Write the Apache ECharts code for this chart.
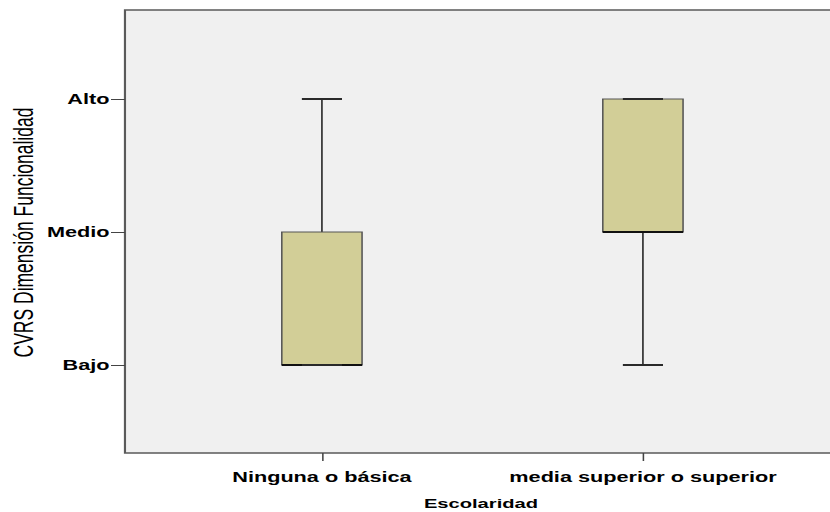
<!DOCTYPE html>
<html>
<head>
<meta charset="utf-8">
<script src="https://cdn.jsdelivr.net/npm/echarts@6/dist/echarts.min.js"></script>
<style>
  html, body { margin: 0; padding: 0; background: #ffffff; overflow: hidden; }
  /* the chart is laid out in a narrow frame and widened horizontally */
  #chart { width: 536px; height: 512px; transform: scaleX(1.5485); transform-origin: 0 0; }
</style>
</head>
<body>
<div id="chart"></div>
<script>
// Escolaridad groups
const categories = ['Ninguna o básica', 'media superior o superior'];
// ordinal levels of the CVRS functional dimension (1..3)
const yLevels = ['Bajo', 'Medio', 'Alto'];
// five-number summaries per group
const whiskerMin = [1, 1];
const quartile1  = [1, 2];
const medians    = [1, 2];
const quartile3  = [2, 3];
const whiskerMax = [3, 3];

const FONT = "'Liberation Sans', Arial, Helvetica, sans-serif";
const BOX_FILL = '#d2ce97';

const boxData = categories.map((c, i) => [
  i + 1, whiskerMin[i], quartile1[i], medians[i], quartile3[i], whiskerMax[i]
]);

function renderBox(params, api) {
  const x = api.value(0);
  const lo = api.coord([x, api.value(1)]);
  const q1 = api.coord([x, api.value(2)]);
  const md = api.coord([x, api.value(3)]);
  const q3 = api.coord([x, api.value(4)]);
  const hi = api.coord([x, api.value(5)]);
  const unit = api.size([1, 0])[0];
  const boxW = unit * 0.25;
  const capW = unit * 0.125;
  const cx = q1[0];
  const children = [];
  const whisker = { stroke: '#1e1e1e', lineWidth: 1 };
  if (q1[1] !== lo[1]) {
    children.push({ type: 'line', shape: { x1: cx, y1: q1[1], x2: cx, y2: lo[1] }, style: whisker });
  }
  if (q3[1] !== hi[1]) {
    children.push({ type: 'line', shape: { x1: cx, y1: q3[1], x2: cx, y2: hi[1] }, style: whisker });
  }
  children.push({
    type: 'rect',
    shape: { x: cx - boxW / 2, y: q3[1], width: boxW, height: q1[1] - q3[1] },
    style: { fill: BOX_FILL, stroke: '#555555', lineWidth: 1 }
  });
  children.push({
    type: 'line',
    shape: { x1: cx - boxW / 2, y1: md[1], x2: cx + boxW / 2, y2: md[1] },
    style: { stroke: '#111111', lineWidth: 2 }
  });
  [lo, hi].forEach(p => {
    children.push({
      type: 'line',
      shape: { x1: cx - capW / 2, y1: p[1], x2: cx + capW / 2, y2: p[1] },
      style: { stroke: '#2a2a2a', lineWidth: 2 }
    });
  });
  return { type: 'group', children };
}

const chart = echarts.init(document.getElementById('chart'), null, { renderer: 'svg' });
chart.setOption({
  animation: false,
  backgroundColor: '#ffffff',
  grid: {
    left: 80.7, top: 10, width: 480, height: 443,
    show: true, backgroundColor: '#f0f0f0', borderColor: '#5a5a5a', borderWidth: 1.4,
    containLabel: false, outerBoundsMode: 'none'
  },
  xAxis: {
    type: 'value', min: 0.3864, max: 2.7019,
    axisLine: { show: false },
    splitLine: { show: false },
    axisTick: { show: true, customValues: [1, 2], length: 8, lineStyle: { color: '#444444', width: 1 } },
    axisLabel: {
      customValues: [1, 2], margin: 17,
      formatter: v => categories[Math.round(v) - 1] || '',
      color: '#000000', fontFamily: FONT, fontWeight: 'bold', fontSize: 14
    }
  },
  yAxis: {
    type: 'value', min: 0.338, max: 3.669,
    axisLine: { show: false },
    splitLine: { show: false },
    axisTick: { show: true, customValues: [1, 2, 3], length: 9, lineStyle: { color: '#444444', width: 1 } },
    axisLabel: {
      customValues: [1, 2, 3], margin: 10, padding: [2, 0, 0, 0],
      formatter: v => yLevels[Math.round(v) - 1] || '',
      color: '#000000', fontFamily: FONT, fontWeight: 'bold', fontSize: 14
    }
  },
  graphic: [
    {
      type: 'text', x: 14.9, y: 232.5, rotation: Math.PI / 2,
      style: { text: 'CVRS Dimensión Funcionalidad', align: 'center', verticalAlign: 'middle',
               fill: '#000000', font: "17.5px " + FONT }
    },
    {
      type: 'text', x: 310.6, y: 503.5,
      style: { text: 'Escolaridad', align: 'center', verticalAlign: 'middle',
               fill: '#000000', font: "bold 13px " + FONT }
    }
  ],
  series: [{
    type: 'custom',
    renderItem: renderBox,
    encode: { x: 0, y: [1, 2, 3, 4, 5] },
    data: boxData,
    clip: false
  }]
});
</script>
</body>
</html>
